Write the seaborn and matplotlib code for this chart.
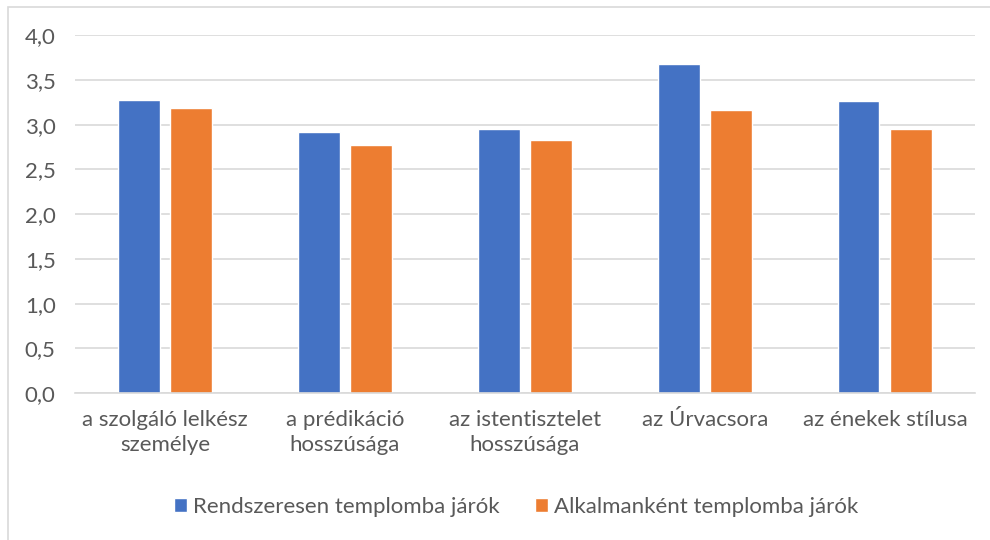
import pandas as pd
import seaborn as sns
import matplotlib.pyplot as plt
from matplotlib.patches import Rectangle
from matplotlib.ticker import FuncFormatter

categories = ["a szolgáló lelkész\nszemélye", "a prédikáció\nhosszúsága",
              "az istentisztelet\nhosszúsága", "az Úrvacsora", "az énekek stílusa"]
regular = [3.27, 2.92, 2.95, 3.68, 3.26]
occasional = [3.18, 2.77, 2.83, 3.16, 2.95]
series_names = ["Rendszeresen templomba járók", "Alkalmanként templomba járók"]
colors = ["#4472C4", "#ED7D31"]

df = pd.DataFrame({
    "cat": categories * 2,
    "val": regular + occasional,
    "group": [series_names[0]] * 5 + [series_names[1]] * 5,
})

sns.set_style("white")
plt.rcParams["font.family"] = ["Lato", "DejaVu Sans"]
text_col = "#595959"

fig = plt.figure(figsize=(9.9, 5.4), dpi=100)
ax = fig.add_axes([0.0758, 0.272, 0.909, 0.663])

sns.barplot(data=df, x="cat", y="val", hue="group", palette=colors,
            width=0.578, gap=0.21, ax=ax, saturation=1, legend=True)

ax.set_ylim(0, 4.0)
ax.set_yticks([i * 0.5 for i in range(9)])
ax.yaxis.set_major_formatter(FuncFormatter(lambda v, p: f"{v:.1f}".replace(".", ",")))
ax.grid(axis="y", color="#d9d9d9", linewidth=1.2)
ax.set_axisbelow(True)
for s in ["top", "right", "left"]:
    ax.spines[s].set_visible(False)
ax.spines["bottom"].set_color("#d9d9d9")
ax.spines["bottom"].set_linewidth(1.2)
ax.set_xlabel("")
ax.set_ylabel("")
ax.tick_params(axis="both", length=0, labelsize=16, colors=text_col)
ax.tick_params(axis="y", pad=14)
ax.tick_params(axis="x", pad=12)
for t in ax.get_xticklabels():
    t.set_linespacing(1.35)
ax.set_xlim(-0.5, 4.5)

handles, labels = ax.get_legend_handles_labels()
ax.legend(handles, labels, loc="center", bbox_to_anchor=(0.49, -0.318), ncol=2,
          frameon=False, fontsize=16, labelcolor=text_col, handlelength=0.6,
          handleheight=0.6, handletextpad=0.25, columnspacing=1.6)

# outer chart frame: only top and left edges fall inside the image
fig.patches.append(Rectangle((7.5 / 990, -20 / 540), 1.1, (540 + 20 - 6.5) / 540,
                             transform=fig.transFigure, fill=False,
                             edgecolor="#d9d9d9", linewidth=1.2))

fig.savefig("out.png", dpi=100)
